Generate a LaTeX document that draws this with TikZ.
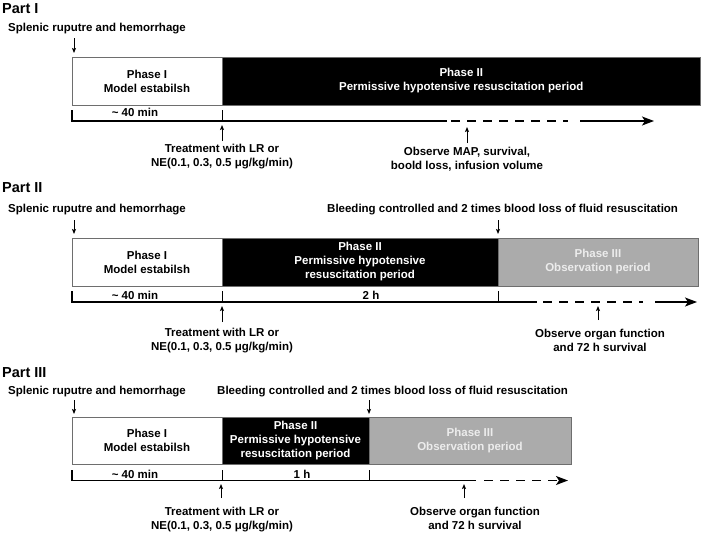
\documentclass[tikz,border=0pt]{standalone}
\usepackage{fontspec}
\setmainfont{Liberation Sans}
\usetikzlibrary{arrows.meta}
\definecolor{boxgray}{HTML}{6E6E6E}
\definecolor{obsfill}{HTML}{ABABAB}
\definecolor{obstext}{HTML}{ECECEC}
\begin{document}
\begin{tikzpicture}[x=1pt,y=-1pt,
  lbl/.style={font=\fontsize{11.5}{14}\selectfont\bfseries, inner sep=0pt, align=center},
  parttitle/.style={font=\fontsize{14.5}{17}\selectfont\bfseries, inner sep=0pt, anchor=base west},
  phasebox/.style={draw=boxgray, line width=0.9pt, inner sep=0pt, align=center,
    font=\fontsize{11.5}{14}\selectfont\bfseries},
  axisline/.style={line width=1.3pt, line cap=butt, line join=miter},
  dashpat/.style={dash pattern=on 9pt off 7pt},
  axtip/.style={-{Stealth[length=12pt,width=9pt,inset=3pt]}},
  tickline/.style={line width=1pt},
  evarrow/.style={line width=1pt, -{Stealth[length=5pt,width=4pt,inset=1pt]}}
]
\useasboundingbox (0,0) rectangle (702,533);

% ================= Part I =================
\node[parttitle] (t1) at (2,13) {Part I};
\node[lbl, anchor=base west] (s1) at (8,31) {Splenic ruputre and hemorrhage};
\coordinate (s1a) at (74,38); \coordinate (s1b) at (74,53);
\draw[evarrow] (s1a) -- (s1b);

\node[phasebox, fill=white, minimum width=150pt, minimum height=48pt] (a1) at (147,81) {Phase I\\Model estabilsh};
\node[phasebox, fill=black, text=white, minimum width=478.5pt, minimum height=48pt] (a2) at (461.25,81) {Phase II\\Permissive hypotensive resuscitation period};

\coordinate (x1a) at (72,110); \coordinate (x1b) at (72,121);
\coordinate (x1c) at (447,121); \coordinate (x1d) at (451,121);
\coordinate (x1e) at (568,121); \coordinate (x1f) at (580,121);
\coordinate (x1g) at (654,121);
\coordinate (k1a) at (222,110); \coordinate (k1b) at (222,121);
\draw[axisline] (x1a) -- (x1b) -- (x1c);
\draw[axisline, dashpat] (x1d) -- (x1e);
\draw[axisline, axtip] (x1f) -- (x1g);
\draw[tickline] (k1a) -- (k1b);
\node[lbl, anchor=base] (m1) at (135,116.5) {\textasciitilde\ 40 min};

\coordinate (tr1a) at (222,141); \coordinate (tr1b) at (222,125);
\draw[evarrow] (tr1a) -- (tr1b);
\node[lbl, anchor=north] (tr1) at (222,144) {Treatment with LR or\\NE(0.1, 0.3, 0.5 μg/kg/min)};
\coordinate (ob1a) at (467,143); \coordinate (ob1b) at (467,127);
\draw[evarrow] (ob1a) -- (ob1b);
\node[lbl, anchor=north] (ob1) at (467,147) {Observe MAP, survival,\\boold loss, infusion volume};

% ================= Part II =================
\node[parttitle] (t2) at (2,192) {Part II};
\node[lbl, anchor=base west] (s2) at (8,212) {Splenic ruputre and hemorrhage};
\node[lbl, anchor=base west] (bl2) at (327,212) {Bleeding controlled and 2 times blood loss of fluid resuscitation};
\coordinate (s2a) at (74,220); \coordinate (s2b) at (74,234);
\draw[evarrow] (s2a) -- (s2b);
\coordinate (bl2a) at (498,220); \coordinate (bl2b) at (498,234);
\draw[evarrow] (bl2a) -- (bl2b);

\node[phasebox, fill=white, minimum width=150pt, minimum height=48pt] (b1) at (147,262) {Phase I\\Model estabilsh};
\node[phasebox, fill=black, text=white, minimum width=276pt, minimum height=48pt] (b2) at (360,262) {Phase II\\Permissive hypotensive\\resuscitation period};
\node[phasebox, fill=obsfill, text=obstext, minimum width=200pt, minimum height=48pt] (b3) at (598,262) {Phase III\\Observation period};

\coordinate (x2a) at (72,291); \coordinate (x2b) at (72,302);
\coordinate (x2c) at (537,302); \coordinate (x2d) at (543,302);
\coordinate (x2e) at (643,302); \coordinate (x2f) at (655,302);
\coordinate (x2g) at (697,302);
\coordinate (k2a) at (222,291); \coordinate (k2b) at (222,302);
\coordinate (k2c) at (498,291); \coordinate (k2d) at (498,302);
\draw[axisline] (x2a) -- (x2b) -- (x2c);
\draw[axisline, dashpat] (x2d) -- (x2e);
\draw[axisline, axtip] (x2f) -- (x2g);
\draw[tickline] (k2a) -- (k2b);
\draw[tickline] (k2c) -- (k2d);
\node[lbl, anchor=base] (m2) at (135,299.5) {\textasciitilde\ 40 min};
\node[lbl, anchor=base] (h2) at (371,299.5) {2 h};

\coordinate (tr2a) at (222,322); \coordinate (tr2b) at (222,306);
\draw[evarrow] (tr2a) -- (tr2b);
\node[lbl, anchor=north] (tr2) at (222,328) {Treatment with LR or\\NE(0.1, 0.3, 0.5 μg/kg/min)};
\coordinate (ob2a) at (598,320); \coordinate (ob2b) at (598,306);
\draw[evarrow] (ob2a) -- (ob2b);
\node[lbl, anchor=north] (ob2) at (600,329) {Observe organ function\\and 72 h survival};

% ================= Part III =================
\node[parttitle] (t3) at (2,377) {Part III};
\node[lbl, anchor=base west] (s3) at (8,394) {Splenic ruputre and hemorrhage};
\node[lbl, anchor=base west] (bl3) at (217,394) {Bleeding controlled and 2 times blood loss of fluid resuscitation};
\coordinate (s3a) at (74,400); \coordinate (s3b) at (74,414);
\draw[evarrow] (s3a) -- (s3b);
\coordinate (bl3a) at (369,400); \coordinate (bl3b) at (369,414);
\draw[evarrow] (bl3a) -- (bl3b);

\node[phasebox, fill=white, minimum width=150pt, minimum height=47pt] (c1) at (147,440.5) {Phase I\\Model estabilsh};
\node[phasebox, fill=black, text=white, minimum width=147pt, minimum height=47pt] (c2) at (295.5,440.5) {Phase II\\Permissive hypotensive\\resuscitation period};
\node[phasebox, fill=obsfill, text=obstext, minimum width=202pt, minimum height=47pt] (c3) at (470,440.5) {Phase III\\Observation period};

\coordinate (x3a) at (72,470); \coordinate (x3b) at (72,480.5);
\coordinate (x3c) at (476,480.5); \coordinate (x3d) at (484,480.5);
\coordinate (x3e) at (568,480.5);
\coordinate (k3a) at (222,470); \coordinate (k3b) at (222,480.5);
\coordinate (k3c) at (369,470); \coordinate (k3d) at (369,480.5);
\draw[axisline] (x3a) -- (x3b) -- (x3c);
\draw[axisline, dashpat, axtip] (x3d) -- (x3e);
\draw[tickline] (k3a) -- (k3b);
\draw[tickline] (k3c) -- (k3d);
\node[lbl, anchor=base] (m3) at (135,478.5) {\textasciitilde\ 40 min};
\node[lbl, anchor=base] (h3) at (302,478.5) {1 h};

\coordinate (tr3a) at (221,498); \coordinate (tr3b) at (221,484);
\draw[evarrow] (tr3a) -- (tr3b);
\node[lbl, anchor=north] (tr3) at (222,507) {Treatment with LR or\\NE(0.1, 0.3, 0.5 μg/kg/min)};
\coordinate (ob3a) at (464,498); \coordinate (ob3b) at (464,484);
\draw[evarrow] (ob3a) -- (ob3b);
\node[lbl, anchor=north] (ob3) at (475,507) {Observe organ function\\and 72 h survival};
\end{tikzpicture}
\end{document}
